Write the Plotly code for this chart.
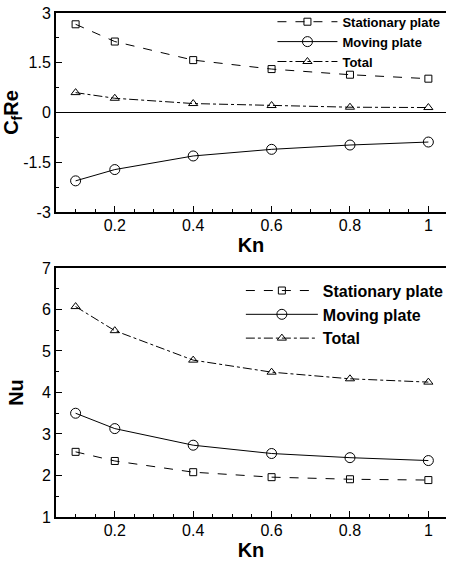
import plotly.graph_objects as go

kn = [0.1, 0.2, 0.4, 0.6, 0.8, 1.0]

cf_stationary = [2.66, 2.14, 1.58, 1.31, 1.14, 1.02]
cf_moving = [-2.06, -1.72, -1.31, -1.11, -0.98, -0.89]
cf_total = [0.60, 0.43, 0.27, 0.21, 0.16, 0.15]

nu_stationary = [2.57, 2.35, 2.08, 1.96, 1.91, 1.89]
nu_moving = [3.50, 3.13, 2.73, 2.53, 2.43, 2.36]
nu_total = [6.07, 5.49, 4.78, 4.49, 4.33, 4.25]

x_tickvals = [0.2, 0.4, 0.6, 0.8, 1.0]
x_ticktext = ["0.2", "0.4", "0.6", "0.8", "1"]
cf_tickvals = [3, 1.5, 0, -1.5, -3]
cf_ticktext = ["3", "1.5", "0", "-1.5", "-3"]
nu_tickvals = [1, 2, 3, 4, 5, 6, 7]
nu_ticktext = ["1", "2", "3", "4", "5", "6", "7"]

FONT = "Liberation Sans, Arial, sans-serif"
series = [
    ("Stationary plate", "dash", "square-open", 7),
    ("Moving plate", "solid", "circle-open", 10),
    ("Total", "dashdot", "triangle-up-open", 8),
]

fig = go.Figure()
top_data = [cf_stationary, cf_moving, cf_total]
bot_data = [nu_stationary, nu_moving, nu_total]
for (name, dash, sym, size), yv in zip(series, top_data):
    fig.add_trace(go.Scatter(x=kn, y=yv, name=name, mode="lines+markers",
                             line=dict(color="black", width=1, dash=dash),
                             marker=dict(symbol=sym, size=size, color="black",
                                         line=dict(width=1, color="black")),
                             xaxis="x", yaxis="y", legend="legend"))
for (name, dash, sym, size), yv in zip(series, bot_data):
    fig.add_trace(go.Scatter(x=kn, y=yv, name=name, mode="lines+markers",
                             line=dict(color="black", width=1, dash=dash),
                             marker=dict(symbol=sym, size=size, color="black",
                                         line=dict(width=1, color="black")),
                             xaxis="x2", yaxis="y2", legend="legend2"))

def xaxis_cfg(standoff):
    return dict(range=[0.05, 1.045], tickvals=x_tickvals, ticktext=x_ticktext,
                ticks="inside", ticklen=6, tickwidth=1, tickcolor="black",
                minor=dict(ticks="inside", dtick=0.05, tick0=0, ticklen=3, tickcolor="black"),
                showline=True, linecolor="black", linewidth=2, mirror=True,
                showgrid=False, zeroline=False, automargin=False,
                ticklabelstandoff=-2,
                tickfont=dict(family=FONT, size=16, color="black"),
                title=dict(text="Kn", font=dict(family=FONT, size=20, color="black", weight="bold"),
                           standoff=standoff))

fig.update_layout(
    width=449, height=563,
    margin=dict(l=56, r=0, t=0, b=0),
    paper_bgcolor="white", plot_bgcolor="white",
    template="none",
    xaxis=dict(xaxis_cfg(0), anchor="y", domain=[0, 1]),
    xaxis2=dict(xaxis_cfg(1), anchor="y2", domain=[0, 1]),
    yaxis=dict(domain=[0.6234, 0.9769], range=[-3, 3], anchor="x",
               tickvals=cf_tickvals, ticktext=cf_ticktext,
               ticks="inside", ticklen=6, tickcolor="black",
               minor=dict(ticks="inside", dtick=0.75, tick0=0, ticklen=3, tickcolor="black"),
               showline=True, linecolor="black", linewidth=2, mirror=False,
               showgrid=False, zeroline=True, zerolinecolor="black", zerolinewidth=1,
               automargin=False,
               tickfont=dict(family=FONT, size=16, color="black"),
               title=dict(text="C<sub>f</sub>Re", font=dict(family=FONT, size=20, color="black", weight="bold"),
                          standoff=0)),
    yaxis2=dict(domain=[0.0817, 0.5240], range=[1, 7], anchor="x2",
                tickvals=nu_tickvals, ticktext=nu_ticktext,
                ticks="inside", ticklen=6, tickcolor="black",
                minor=dict(ticks="inside", dtick=0.5, tick0=0, ticklen=3, tickcolor="black"),
                showline=True, linecolor="black", linewidth=2, mirror=False,
                showgrid=False, zeroline=False, automargin=False,
                tickfont=dict(family=FONT, size=16, color="black"),
                title=dict(text="Nu", font=dict(family=FONT, size=20, color="black", weight="bold"),
                           standoff=13)),
    legend=dict(x=0.555, y=0.988, xanchor="left", yanchor="top", bgcolor="rgba(0,0,0,0)",
                font=dict(family=FONT, size=13, color="black", weight="bold"),
                tracegroupgap=0, itemwidth=60),
    legend2=dict(x=0.474, y=0.514, xanchor="left", yanchor="top", bgcolor="rgba(0,0,0,0)",
                 font=dict(family=FONT, size=16, color="black", weight="bold"),
                 tracegroupgap=0, itemwidth=72),
)

fig.write_html("out.html")
